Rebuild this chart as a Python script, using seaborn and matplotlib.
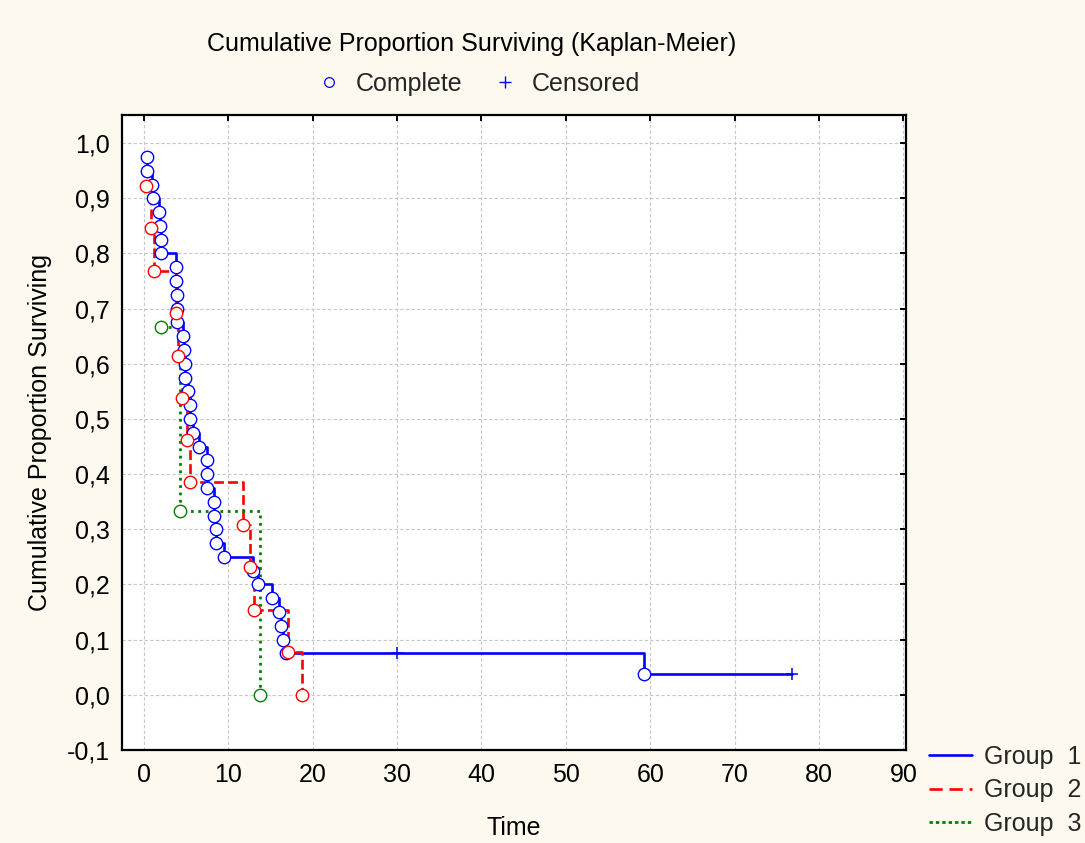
import matplotlib
matplotlib.use("Agg")
import matplotlib.pyplot as plt
from matplotlib.lines import Line2D
import seaborn as sns
import pandas as pd

# ---- data ----
# Group 1 (n=40): complete (event) times and survival after each event
g1_event_t = [0.39, 0.39, 1.03, 1.10, 1.78, 1.90, 2.10, 2.10, 3.80, 3.85,
              4.00, 4.00, 4.00, 4.60, 4.75, 4.95, 4.95, 5.25, 5.50, 5.50,
              5.80, 6.60, 7.45, 7.45, 7.45, 8.35, 8.35, 8.60, 8.60, 9.50,
              13.00, 13.50, 15.15, 16.00, 16.25, 16.45, 16.90, 59.26]
g1_event_s = [0.975, 0.950, 0.925, 0.900, 0.875, 0.850, 0.825, 0.800, 0.775, 0.750,
              0.725, 0.700, 0.675, 0.650, 0.625, 0.600, 0.575, 0.550, 0.525, 0.500,
              0.475, 0.450, 0.425, 0.400, 0.375, 0.350, 0.325, 0.300, 0.275, 0.250,
              0.225, 0.200, 0.175, 0.150, 0.125, 0.100, 0.075, 0.0375]
g1_cens_t = [30.0, 76.85]
g1_cens_s = [0.075, 0.0375]

# Group 2 (n=13)
g2_event_t = [0.24, 0.91, 1.22, 3.80, 4.07, 4.59, 5.13, 5.46, 11.78, 12.57, 13.09, 17.12, 18.80]
g2_event_s = [0.923, 0.846, 0.769, 0.692, 0.615, 0.538, 0.462, 0.385, 0.308, 0.231, 0.154, 0.077, 0.0]
g2_cens_t = []
g2_cens_s = []

# Group 3 (n=3)
g3_event_t = [2.10, 4.35, 13.76]
g3_event_s = [0.667, 0.333, 0.0]
g3_cens_t = []
g3_cens_s = []

groups = ["Group  1", "Group  2", "Group  3"]
x_ticks = [0, 10, 20, 30, 40, 50, 60, 70, 80, 90]
y_ticks = [-0.1, 0.0, 0.1, 0.2, 0.3, 0.4, 0.5, 0.6, 0.7, 0.8, 0.9, 1.0]
y_tick_labels = ["-0,1", "0,0", "0,1", "0,2", "0,3", "0,4", "0,5", "0,6", "0,7", "0,8", "0,9", "1,0"]

colors = ["#0000ff", "#ff0000", "#008000"]

sns.set_theme(style="white")
plt.rcParams["font.family"] = ["Liberation Sans", "DejaVu Sans"]

FS = 18
bg = "#fdf9ee"
fig = plt.figure(figsize=(10.85, 8.43), dpi=100, facecolor=bg)
ax = fig.add_axes([122 / 1085, 1 - 750 / 843, (906 - 122) / 1085, (750 - 115) / 843])
ax.set_facecolor("white")

series = [
    (g1_event_t, g1_event_s, g1_cens_t, g1_cens_s),
    (g2_event_t, g2_event_s, g2_cens_t, g2_cens_s),
    (g3_event_t, g3_event_s, g3_cens_t, g3_cens_s),
]

line_styles = [
    dict(linewidth=1.9, linestyle="-"),
    dict(linewidth=1.9, linestyle="--", dashes=(5, 2.6)),
    dict(linewidth=2.0, linestyle=":", dashes=(1.2, 1.1)),
]

for i, (et, es, ct, cs) in enumerate(series):
    pts = sorted(list(zip(et, es)) + list(zip(ct, cs)), key=lambda p: (p[0], -p[1]))
    df = pd.DataFrame(pts, columns=["t", "s"])
    sns.lineplot(data=df, x="t", y="s", estimator=None, sort=False, ax=ax, zorder=3,
                 color=colors[i], drawstyle="steps-post", **line_styles[i])
    dfe = pd.DataFrame({"t": et, "s": es})
    sns.scatterplot(data=dfe, x="t", y="s", ax=ax, marker="o", s=80,
                    facecolor="white", edgecolor=colors[i], linewidth=1.0, zorder=4)
    if ct:
        dfc = pd.DataFrame({"t": ct, "s": cs})
        sns.scatterplot(data=dfc, x="t", y="s", ax=ax, marker="+", s=70,
                        color=colors[i], linewidth=1.1, zorder=4)

ax.set_xlim(-2.57, 90.3)
ax.set_ylim(-0.1, 1.051)
ax.set_xticks(x_ticks)
ax.set_xticklabels([str(v) for v in x_ticks])
ax.set_yticks(y_ticks)
ax.set_yticklabels(y_tick_labels)
ax.grid(True, color="#c8c8c8", linestyle=(0, (3, 2)), linewidth=0.8)
ax.set_axisbelow(True)
for sp in ax.spines.values():
    sp.set_color("black")
    sp.set_linewidth(1.6)
ax.tick_params(axis="both", which="both", direction="in", length=4.5, width=1.4,
               top=True, right=True, labelsize=FS, colors="black", pad=9)
ax.set_xlabel("Time", fontsize=FS, labelpad=21, color="black")
ax.set_ylabel("Cumulative Proportion Surviving", fontsize=FS, labelpad=10, color="black")

fig.text(472 / 1085, 1 - 44 / 843, "Cumulative Proportion Surviving (Kaplan-Meier)",
         ha="center", va="center", fontsize=FS, color="black")

top_handles = [
    Line2D([], [], linestyle="none", marker="o", markersize=7, markerfacecolor="none",
           markeredgecolor="#0000ff", markeredgewidth=0.9),
    Line2D([], [], linestyle="none", marker="+", markersize=8, color="#0000ff",
           markeredgewidth=1.0),
]
fig.legend(top_handles, ["Complete", "Censored"], loc="center",
           bbox_to_anchor=(478 / 1085, 1 - 84 / 843), ncol=2, frameon=False,
           fontsize=FS, handlelength=1.0, handletextpad=0.58, columnspacing=1.2)

grp_handles = [
    Line2D([], [], color=colors[0], **line_styles[0]),
    Line2D([], [], color=colors[1], **line_styles[1]),
    Line2D([], [], color=colors[2], **line_styles[2]),
]
fig.legend(grp_handles, groups, loc="upper left", bbox_to_anchor=(929 / 1085, 1 - 745 / 843),
           frameon=False, fontsize=FS, handlelength=1.7, handletextpad=0.5,
           labelspacing=0.38, borderpad=0.0, borderaxespad=0.0)

fig.savefig("out.png", dpi=100, facecolor=bg)
